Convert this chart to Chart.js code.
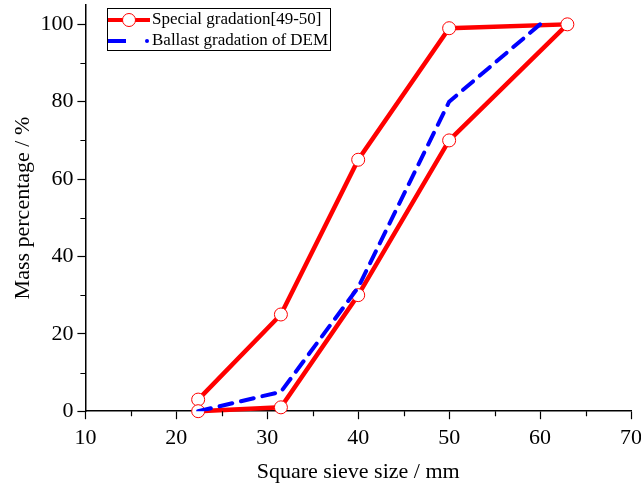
<!DOCTYPE html>
<html>
<head>
<meta charset="utf-8">
<script src="https://cdn.jsdelivr.net/npm/chart.js@4/dist/chart.umd.min.js"></script>
<style>
  html, body { margin: 0; padding: 0; background: #fff; }
  #wrap { width: 641px; height: 489px; }
</style>
</head>
<body>
<div id="wrap"><canvas id="gradChart" width="641" height="489"></canvas></div>
<script>
// Special gradation [49-50]: upper bound then lower bound, one closed envelope
const specialSize = [22.4, 31.5, 40, 50, 63, 50, 40, 31.5, 22.4];
const specialPass = [3, 25, 65, 99, 100, 70, 30, 1, 0];

// Ballast gradation used in the DEM model
const demSize = [22.4, 31.5, 40, 50, 60];
const demPass = [0, 5, 32, 80, 100];

const xTicks = [10, 20, 30, 40, 50, 60, 70];
const xMinor = [15, 25, 35, 45, 55, 65];
const yTicks = [0, 20, 40, 60, 80, 100];
const yMinor = [10, 30, 50, 70, 90];

const legendNames = ['Special gradation[49-50]', 'Ballast gradation of DEM'];

const serif = '"Liberation Serif", "Times New Roman", serif';

function toPoints(xs, ys) {
  return xs.map((x, i) => ({ x: x, y: ys[i] }));
}

// drop the label overhang padding so the plot box sits where we put it
function noOverhang(s) {
  s.paddingLeft = 0;
  s.paddingRight = 0;
  s.paddingTop = 0;
  s.paddingBottom = 0;
}

// short minor ticks, drawn outward like the major ones
const minorTicks = {
  id: 'minorTicks',
  afterDraw(chart) {
    const ctx = chart.ctx;
    const xs = chart.scales.x, ys = chart.scales.y;
    ctx.save();
    ctx.strokeStyle = '#000';
    ctx.lineWidth = 1.2;
    ctx.beginPath();
    xMinor.forEach(v => {
      const px = Math.round(xs.getPixelForValue(v)) + 0.5;
      ctx.moveTo(px, xs.top);
      ctx.lineTo(px, xs.top + 5);
    });
    yMinor.forEach(v => {
      const py = Math.round(ys.getPixelForValue(v)) + 0.5;
      ctx.moveTo(ys.right, py);
      ctx.lineTo(ys.right - 5, py);
    });
    ctx.stroke();
    ctx.restore();
  }
};

// framed legend in the upper left, line + marker samples like the original
const boxLegend = {
  id: 'boxLegend',
  afterDraw(chart) {
    const ctx = chart.ctx;
    const left = 107, top = 8, w = 223, h = 42;
    ctx.save();
    ctx.fillStyle = '#fff';
    ctx.fillRect(left, top, w, h);
    ctx.strokeStyle = '#000';
    ctx.lineWidth = 1;
    ctx.strokeRect(left + 0.5, top + 0.5, w, h);

    // red entry
    let y = top + 12;
    ctx.strokeStyle = '#ff0000';
    ctx.lineWidth = 4;
    ctx.beginPath();
    ctx.moveTo(left + 1, y);
    ctx.lineTo(left + 43, y);
    ctx.stroke();
    ctx.beginPath();
    ctx.arc(left + 22, y, 6.5, 0, Math.PI * 2);
    ctx.fillStyle = '#fff';
    ctx.fill();
    ctx.lineWidth = 1;
    ctx.stroke();

    // blue entry
    y = top + 33;
    ctx.strokeStyle = '#0000ff';
    ctx.lineWidth = 4;
    ctx.beginPath();
    ctx.moveTo(left + 1, y);
    ctx.lineTo(left + 19, y);
    ctx.stroke();
    ctx.fillStyle = '#0000ff';
    ctx.beginPath();
    ctx.arc(left + 40, y, 2, 0, Math.PI * 2);
    ctx.fill();

    ctx.fillStyle = '#000';
    ctx.font = '17px ' + serif;
    ctx.textBaseline = 'middle';
    ctx.fillText(legendNames[0], left + 45, top + 12);
    ctx.fillText(legendNames[1], left + 45, top + 33);
    ctx.restore();
  }
};

const ctx = document.getElementById('gradChart').getContext('2d');
new Chart(ctx, {
  type: 'line',
  data: {
    datasets: [
      {
        label: legendNames[1],
        data: toPoints(demSize, demPass),
        borderColor: '#0000ff',
        borderWidth: 4,
        borderDash: [13, 9],
        borderCapStyle: 'round',
        pointRadius: 0,
        fill: false,
        tension: 0,
        order: 1
      },
      {
        label: legendNames[0],
        data: toPoints(specialSize, specialPass),
        borderColor: '#ff0000',
        borderWidth: 4.5,
        pointRadius: 6.5,
        pointBorderWidth: 1,
        pointBackgroundColor: '#fff',
        pointBorderColor: '#ff0000',
        fill: false,
        tension: 0,
        clip: false,
        order: 2
      }
    ]
  },
  options: {
    responsive: false,
    animation: false,
    layout: { autoPadding: false, padding: { top: 5, right: 10, left: 3, bottom: 4 } },
    plugins: {
      legend: { display: false },
      tooltip: { enabled: false }
    },
    scales: {
      x: {
        type: 'linear',
        min: 10,
        max: 70,
        afterBuildTicks: s => { s.ticks = xTicks.map(v => ({ value: v })); },
        afterFit: noOverhang,
        ticks: { color: '#000', font: { family: serif, size: 22 }, padding: 6, maxRotation: 0 },
        grid: { drawOnChartArea: false, drawTicks: true, tickLength: 8, tickColor: '#000', tickWidth: 1.2 },
        border: { display: true, color: '#000', width: 1.5 },
        title: {
          display: true,
          text: 'Square sieve size / mm',
          color: '#000',
          font: { family: serif, size: 22 },
          padding: { top: 1, bottom: 0 }
        }
      },
      y: {
        type: 'linear',
        min: 0,
        max: 105,
        afterBuildTicks: s => { s.ticks = yTicks.map(v => ({ value: v })); },
        afterFit: noOverhang,
        ticks: { color: '#000', font: { family: serif, size: 22 }, padding: 4 },
        grid: { drawOnChartArea: false, drawTicks: true, tickLength: 8, tickColor: '#000', tickWidth: 1.2 },
        border: { display: true, color: '#000', width: 1.5 },
        title: {
          display: true,
          text: 'Mass percentage / %',
          color: '#000',
          font: { family: serif, size: 22 },
          padding: { top: 7, bottom: 0 }
        }
      }
    }
  },
  plugins: [minorTicks, boxLegend]
});
</script>
</body>
</html>
